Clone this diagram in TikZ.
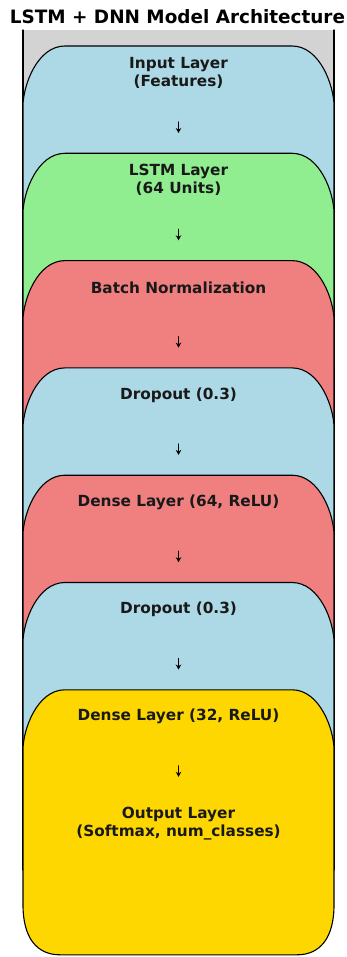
\documentclass[tikz,border=0pt]{standalone}
\usepackage{fontspec}
\setmainfont{DejaVu Sans}
\usepackage{tikz}
\usetikzlibrary{arrows.meta}
\usetikzlibrary{positioning}

\definecolor{axgray}{HTML}{D3D3D3}
\definecolor{layerblue}{HTML}{ADD8E6}
\definecolor{layergreen}{HTML}{90EE90}
\definecolor{layercoral}{HTML}{F08080}
\definecolor{layergold}{HTML}{FFD700}

\tikzset{
  boxline/.style={draw=black, line width=1.1pt},
  layertext/.style={font=\fontsize{15.3}{18}\selectfont\bfseries, align=center, text=black!90},
  titletext/.style={font=\fontsize{18.4}{22}\selectfont\bfseries},
  flowarrow/.style={line width=1.2pt, -{Stealth[length=5pt, width=5.5pt]}}
}

\begin{document}
\begin{tikzpicture}[line cap=round,line join=round, x=1pt,y=-1pt]
\useasboundingbox (0,0) rectangle (347,957);
% axes background and side spines
\fill[axgray] (23,30) rectangle (334,870);
\draw[line width=1.2pt] (23,30) -- (23,870);
\draw[line width=1.2pt] (334,30) -- (334,870);
% stacked layer boxes
\foreach \i/\col in {0/layerblue,1/layergreen,2/layercoral,3/layerblue,4/layercoral,5/layerblue,6/layergold} {
  \pgfmathsetmacro{\T}{46+107.3*\i}
  \pgfmathsetmacro{\B}{\T+265}
  \draw[boxline, fill=\col] (65,\T) -- (292,\T)
    .. controls (320,\T) and (334,\T+40) .. (334,\T+60) -- (334,\B-50)
    .. controls (334,\B-16.7) and (320,\B) .. (297,\B) -- (60,\B)
    .. controls (37,\B) and (23,\B-16.7) .. (23,\B-50) -- (23,\T+60)
    .. controls (23,\T+40) and (37,\T) .. (65,\T) -- cycle;
  \coordinate (up\i) at (178.5,\T+76);
  \coordinate (dn\i) at (178.5,\T+87);
  \draw[flowarrow] (up\i) -- (dn\i);
}
\node[titletext] (title) at (177.5,17) {LSTM + DNN Model Architecture};
\node[layertext] (input) at (178.5,73) {Input Layer\\(Features)};
\node[layertext] (lstm) at (178.5,180.3) {LSTM Layer\\(64 Units)};
\node[layertext] (batchnorm) at (178.5,287.6) {Batch Normalization};
\node[layertext] (dropa) at (178.5,394.9) {Dropout (0.3)};
\node[layertext] (densea) at (178.5,502.2) {Dense Layer (64, ReLU)};
\node[layertext] (dropb) at (178.5,609.5) {Dropout (0.3)};
\node[layertext] (denseb) at (178.5,716.8) {Dense Layer (32, ReLU)};
\node[layertext] (output) at (178.5,824) {Output Layer\\(Softmax, num\_classes)};
\end{tikzpicture}
\end{document}
